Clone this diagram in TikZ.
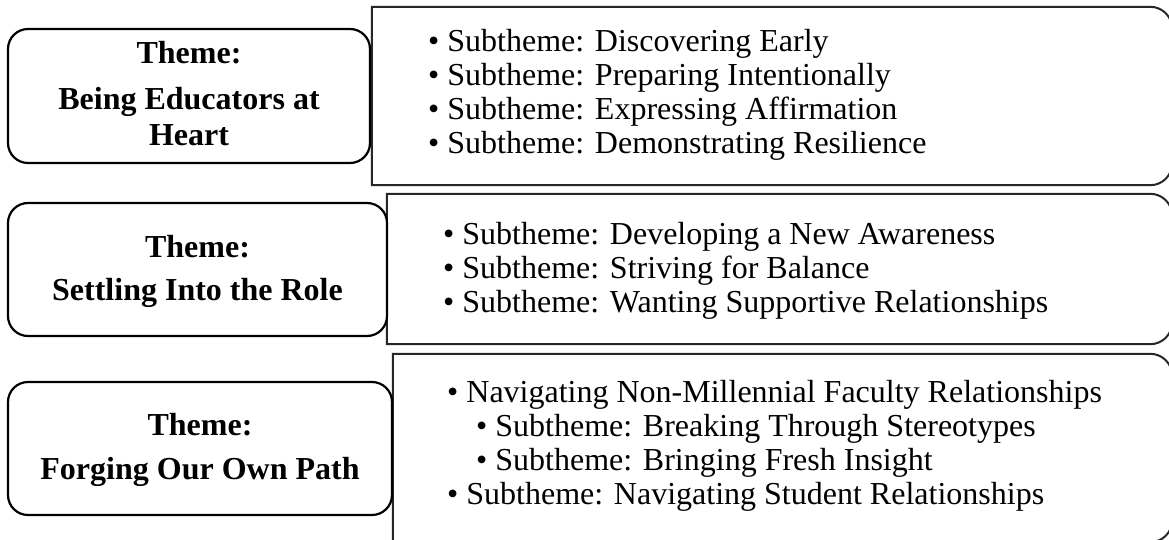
\documentclass[tikz,border=0pt]{standalone}
\usepackage{fontspec}
\setmainfont{Liberation Serif}
\begin{document}
\begin{tikzpicture}[x=1pt,y=1pt,
  themebox/.style={draw=black, line width=2.2pt, rounded corners=20pt, inner sep=0pt},
  listbox/.style={draw=none, inner sep=0pt},
  listline/.style={draw=black!85, line width=2pt, line join=miter},
  themetext/.style={anchor=base, inner sep=0pt, font=\bfseries\fontsize{32}{34}\selectfont},
  itemtext/.style={anchor=base west, inner sep=0pt, font=\fontsize{32}{34}\selectfont},
]
\useasboundingbox (0,0) rectangle (1169,-540);
\clip (0,0) rectangle (1169,-540);

% frames of the subtheme lists (square left corners, rounded right corners)
\node[listbox, minimum width=800pt, minimum height=178pt] (s1) at (772,-96) {};
\node[listbox, minimum width=785pt, minimum height=150pt] (s2) at (779.5,-269) {};
\node[listbox, minimum width=779pt, minimum height=188pt] (s3) at (782.5,-448) {};
\foreach \b in {s1,s2,s3}
  \draw[listline] (\b.south west) -- (\b.north west)
    -- ([xshift=-22pt]\b.north east) arc[start angle=90, end angle=0, radius=22pt]
    -- ([yshift=22pt]\b.south east) arc[start angle=0, end angle=-90, radius=22pt]
    -- cycle;

% theme boxes
\node[themebox, fill=white, minimum width=362pt, minimum height=134pt] (t1) at (189,-96) {};
\node[themebox, fill=white, minimum width=379pt, minimum height=133pt] (t2) at (197.5,-269.5) {};
\node[themebox, fill=white, minimum width=384pt, minimum height=133pt] (t3) at (200,-448.5) {};

% theme titles
\node[themetext] (t1a) at (189,-64) {Theme:};
\node[themetext] (t1b) at (189,-110) {Being Educators at};
\node[themetext] (t1c) at (189,-146) {Heart};
\node[themetext] (t2a) at (197.5,-257) {Theme:};
\node[themetext] (t2b) at (197.5,-300) {Settling Into the Role};
\node[themetext] (t3a) at (200,-435) {Theme:};
\node[themetext] (t3b) at (200,-479) {Forging Our Own Path};

% subtheme lists
\node[itemtext] (i11) at (428,-52) {• Subtheme: Discovering Early};
\node[itemtext] (i12) at (428,-86) {• Subtheme: Preparing Intentionally};
\node[itemtext] (i13) at (428,-120) {• Subtheme: Expressing Affirmation};
\node[itemtext] (i14) at (428,-154) {• Subtheme: Demonstrating Resilience};

\node[itemtext] (i21) at (443,-244) {• Subtheme: Developing a New Awareness};
\node[itemtext] (i22) at (443,-278) {• Subtheme: Striving for Balance};
\node[itemtext] (i23) at (443,-312) {• Subtheme: Wanting Supportive Relationships};

\node[itemtext] (i31) at (447,-402) {• Navigating Non-Millennial Faculty Relationships};
\node[itemtext] (i32) at (476,-436) {• Subtheme: Breaking Through Stereotypes};
\node[itemtext] (i33) at (476,-470) {• Subtheme: Bringing Fresh Insight};
\node[itemtext] (i34) at (447,-504) {• Subtheme: Navigating Student Relationships};
\end{tikzpicture}
\end{document}
